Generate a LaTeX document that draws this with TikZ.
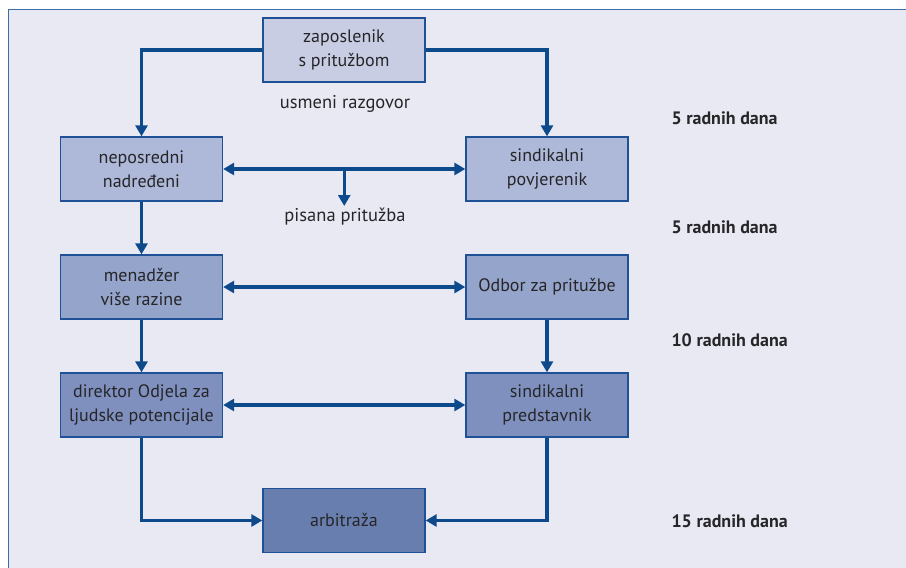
\documentclass[tikz,border=0pt]{standalone}
\usepackage{fontspec}
\setmainfont{PT Sans}
\usetikzlibrary{arrows.meta,calc}
\definecolor{pagebg}{HTML}{E9E9F3}
\definecolor{framecol}{HTML}{3A6EA8}
\definecolor{linecol}{HTML}{0D4A8C}
\definecolor{boxedge}{HTML}{1E5196}
\definecolor{fillA}{HTML}{C8CDE3}
\definecolor{fillB}{HTML}{AEB8D8}
\definecolor{fillC}{HTML}{95A4CA}
\definecolor{fillD}{HTML}{7F90BF}
\definecolor{fillE}{HTML}{687EAF}
\definecolor{txt}{HTML}{262629}
\tikzset{
  stagebox/.style={draw=boxedge, line width=1.3pt, minimum width=162pt, minimum height=64pt,
    align=center, font=\fontsize{18}{23.5}\selectfont, text=txt, inner sep=1pt},
  flow/.style={draw=linecol, line width=3.5pt, -{Triangle[length=11pt,width=12pt]}},
  twoway/.style={draw=linecol, line width=3.5pt, {Triangle[length=11pt,width=12pt]}-{Triangle[length=11pt,width=12pt]}},
  caption/.style={font=\fontsize{18.5}{22}\selectfont, text=txt},
  daylabel/.style={font=\bfseries\fontsize{18}{21}\selectfont, text=txt, anchor=west},
}
\begin{document}
\begin{tikzpicture}[x=1pt,y=-1pt]
  \useasboundingbox (0,0) rectangle (906,568);
  \fill[white] (0,0) rectangle (906,568);
  \fill[pagebg] (8.5,9.5) rectangle (906,568);
  \draw[framecol, line width=1.6pt] (8.5,568) -- (8.5,9.5) -- (906,9.5);

  % stages
  \node[stagebox, fill=fillA] (emp) at (344,50) {zaposlenik\\s pritužbom};
  \node[stagebox, fill=fillB] (sup) at (141.5,169) {neposredni\\nadređeni};
  \node[stagebox, fill=fillB] (rep) at (547,169) {sindikalni\\povjerenik};
  \node[stagebox, fill=fillC] (mgr) at (141.5,287) {menadžer\\više razine};
  \node[stagebox, fill=fillC] (brd) at (547,287) {Odbor za pritužbe};
  \node[stagebox, fill=fillD] (hrd) at (141.5,405) {direktor Odjela za\\ljudske potencijale};
  \node[stagebox, fill=fillD] (uni) at (547,405) {sindikalni\\predstavnik};
  \node[stagebox, fill=fillE] (arb) at (344,520.5) {arbitraža};

  % captions
  \node[caption] (oral) at (345,104) {usmeni razgovor};
  \coordinate (split) at ($(sup.east)!0.5!(rep.west)$);
  \coordinate (splitend) at ($(split)+(0,37)$);
  \node[caption] (written) at (345,217) {pisana pritužba};

  % time limits
  \node[daylabel] (d1) at (668,118) {5 radnih dana};
  \node[daylabel] (d2) at (668,227) {5 radnih dana};
  \node[daylabel] (d3) at (668,340) {10 radnih dana};
  \node[daylabel] (d4) at (668,521) {15 radnih dana};

  % connectors
  \draw[flow] (emp.west) -| (sup.north);
  \draw[flow] (emp.east) -| (rep.north);
  \draw[twoway] (sup.east) -- (rep.west);
  \draw[flow] (split) -- (splitend);
  \draw[flow] (sup.south) -- (mgr.north);
  \draw[twoway] (mgr.east) -- (brd.west);
  \draw[flow] (mgr.south) -- (hrd.north);
  \draw[flow] (brd.south) -- (uni.north);
  \draw[twoway] (hrd.east) -- (uni.west);
  \draw[flow] (hrd.south) |- (arb.west);
  \draw[flow] (uni.south) |- (arb.east);
\end{tikzpicture}
\end{document}
